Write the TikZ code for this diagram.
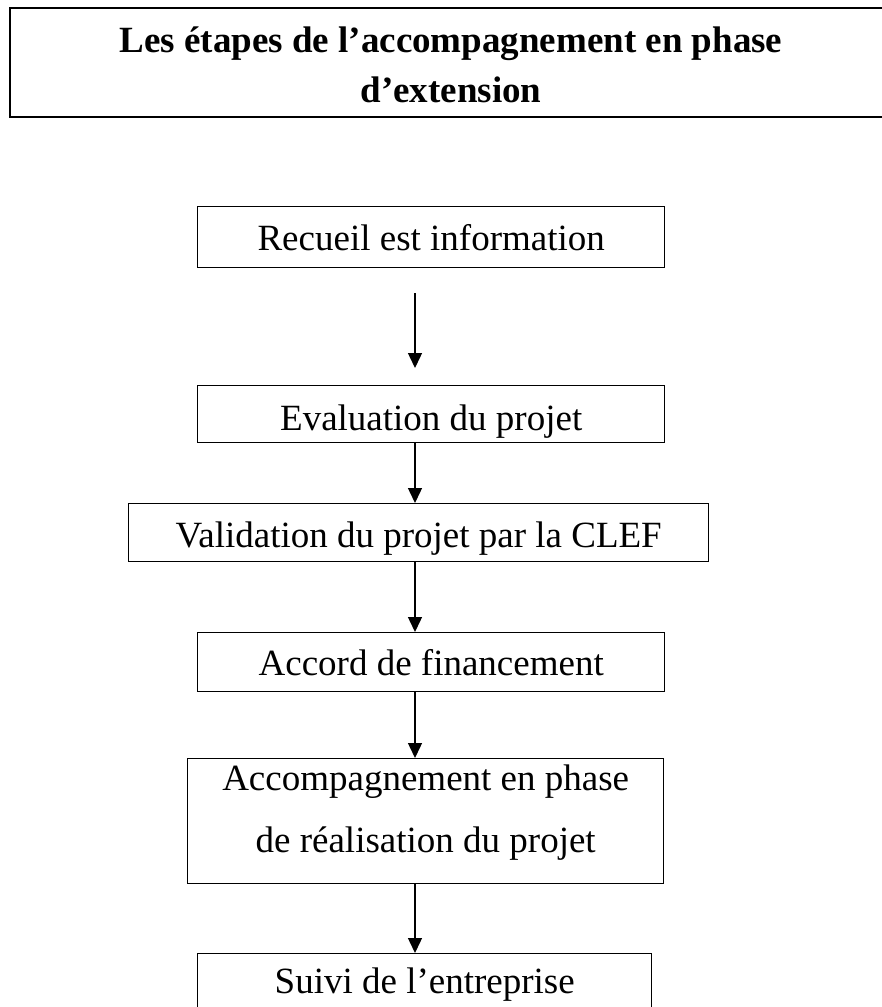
\documentclass[tikz,border=0pt]{standalone}
\usepackage{fontspec}
\setmainfont{Liberation Serif}
\usetikzlibrary{arrows.meta}

\begin{document}
\begin{tikzpicture}[x=1pt, y=-1pt, line width=1.4pt, >={Triangle[width=14pt,length=15pt]},
  main/.style = {draw, anchor=north west, inner xsep=0pt, inner ysep=0pt, minimum width=467pt,
    text height=44pt, text depth=15pt, font=\fontsize{37pt}{62pt}\selectfont},
  title/.style = {inner sep=0pt, align=center, font=\bfseries\fontsize{37pt}{50pt}\selectfont}]
  \useasboundingbox (0,0) rectangle (882,1007);

  % title frame, open on the right
  \draw[line width=2.4pt] (895,8) -- (10,8) -- (10,117) -- (895,117);
  \node[title] (t) at (451,65) {Les étapes de l’accompagnement en phase\\d’extension};

  \node[main, text height=44pt, text depth=17pt] (1) at (197,206) {Recueil est information};
  \node[main, text height=45pt, text depth=12pt] (2) at (197,385) {Evaluation du projet};
  \node[main, minimum width=580pt, text depth=14pt] (3) at (128,503) {Validation du projet par la CLEF};
  \node[main, text height=43pt, text depth=16pt] (4) at (197,632) {Accord de financement};
  \node[main, minimum width=476pt, align=center, text height=94pt, text depth=31pt] (5) at (187,758) {Accompagnement en phase\\de réalisation du projet};
  \node[main, minimum width=454pt, text height=40pt, text depth=19pt] (6) at (197,953) {Suivi de l’entreprise};

  \coordinate (s) at (415,293);
  \coordinate (e) at (415,368);

  \draw[->] (s) -- (e);
  \draw[->] (2.south -| s) -- (3.north -| s);
  \draw[->] (3.south -| s) -- (4.north -| s);
  \draw[->] (4.south -| s) -- (5.north -| s);
  \draw[->] (5.south -| s) -- (6.north -| s);
\end{tikzpicture}
\end{document}
